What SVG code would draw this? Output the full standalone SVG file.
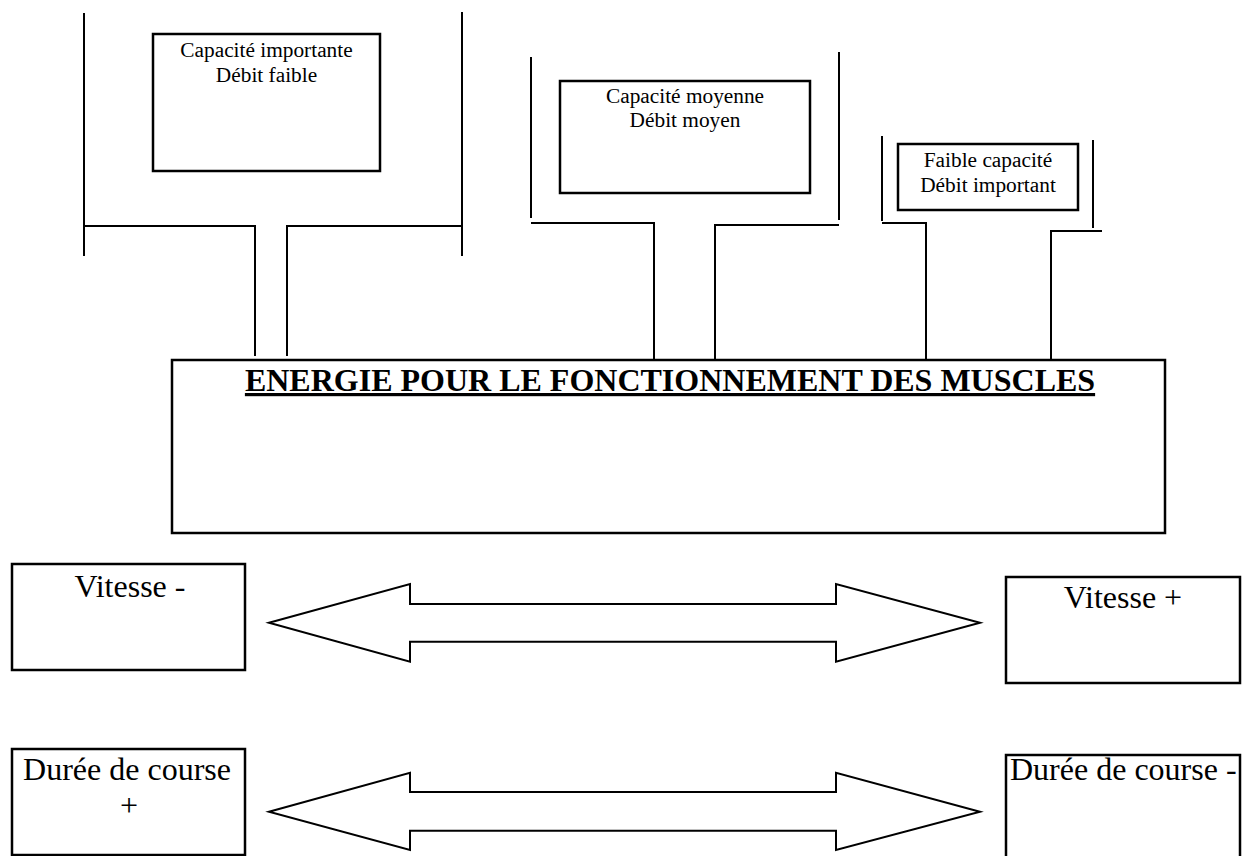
<svg xmlns="http://www.w3.org/2000/svg" width="1242" height="856" viewBox="0 0 1242 856">
<style>
.ln{fill:none;stroke:#000;stroke-width:2;stroke-linecap:butt}
.bx{fill:#fff;stroke:#000;stroke-width:2.5}
.s{font-family:"Liberation Serif","Times New Roman",serif;font-size:21.33px;text-anchor:middle;fill:#000}
.b{font-family:"Liberation Serif","Times New Roman",serif;font-size:32px;fill:#000}
.t{font-family:"Liberation Serif","Times New Roman",serif;font-size:32px;font-weight:bold;text-anchor:middle;text-decoration:underline;fill:#000}
.ar{fill:#fff;stroke:#000;stroke-width:2;stroke-linejoin:miter}
</style>
<rect width="1242" height="856" fill="#fff"/>
<g id="connectors">
  <line class="ln" x1="84" y1="13" x2="84" y2="256"/>
  <line class="ln" x1="462" y1="12" x2="462" y2="256"/>
  <polyline class="ln" points="84,226 255,226 255,356"/>
  <polyline class="ln" points="287,356 287,226 462,226"/>
  <line class="ln" x1="531" y1="57" x2="531" y2="218"/>
  <line class="ln" x1="839" y1="52" x2="839" y2="220"/>
  <polyline class="ln" points="531,223 654,223 654,359"/>
  <polyline class="ln" points="715,359 715,225 839,225"/>
  <line class="ln" x1="882" y1="136" x2="882" y2="221"/>
  <line class="ln" x1="1093" y1="140" x2="1093" y2="228"/>
  <polyline class="ln" points="882,223 926,223 926,359"/>
  <polyline class="ln" points="1051,359 1051,231 1102,231"/>
  <polygon class="ar" points="269,622.7 410,584 410,604 836,604 836,584 980,622.7 836,661.7 836,641.7 410,641.7 410,661.7"/>
  <polygon class="ar" points="269,811.7 410,772.7 410,792 836,792 836,772.7 980,811.7 836,850 836,830.7 410,830.7 410,850"/>
</g>
<g id="reservoir-1">
  <rect class="bx" x="153" y="34" width="227" height="137"/>
  <text class="s" x="266.5" y="57">Capacité importante</text>
  <text class="s" x="266.5" y="82">Débit faible</text>
</g>
<g id="reservoir-2">
  <rect class="bx" x="560" y="81" width="250" height="112"/>
  <text class="s" x="685" y="103">Capacité moyenne</text>
  <text class="s" x="685" y="127">Débit moyen</text>
</g>
<g id="reservoir-3">
  <rect class="bx" x="898" y="144" width="180" height="66"/>
  <text class="s" x="988" y="167">Faible capacité</text>
  <text class="s" x="988" y="192">Débit important</text>
</g>
<g id="energie">
  <rect class="bx" x="172" y="360" width="993" height="173"/>
  <text class="t" x="670" y="391">ENERGIE POUR LE FONCTIONNEMENT DES MUSCLES</text>
</g>
<g id="vitesse-moins">
  <rect class="bx" x="12" y="564" width="233" height="106"/>
  <text class="b" x="130" y="597" text-anchor="middle">Vitesse -</text>
</g>
<g id="vitesse-plus">
  <rect class="bx" x="1006" y="577" width="234" height="106"/>
  <text class="b" x="1123" y="608" text-anchor="middle">Vitesse +</text>
</g>
<g id="duree-plus">
  <rect class="bx" x="12" y="749" width="233" height="106"/>
  <text class="b" x="127" y="780" text-anchor="middle">Durée de course</text>
  <text class="b" x="129" y="816" text-anchor="middle">+</text>
</g>
<g id="duree-moins">
  <rect class="bx" x="1006" y="755" width="234" height="106"/>
  <text class="b" x="1010" y="780">Durée de course -</text>
</g>
</svg>
